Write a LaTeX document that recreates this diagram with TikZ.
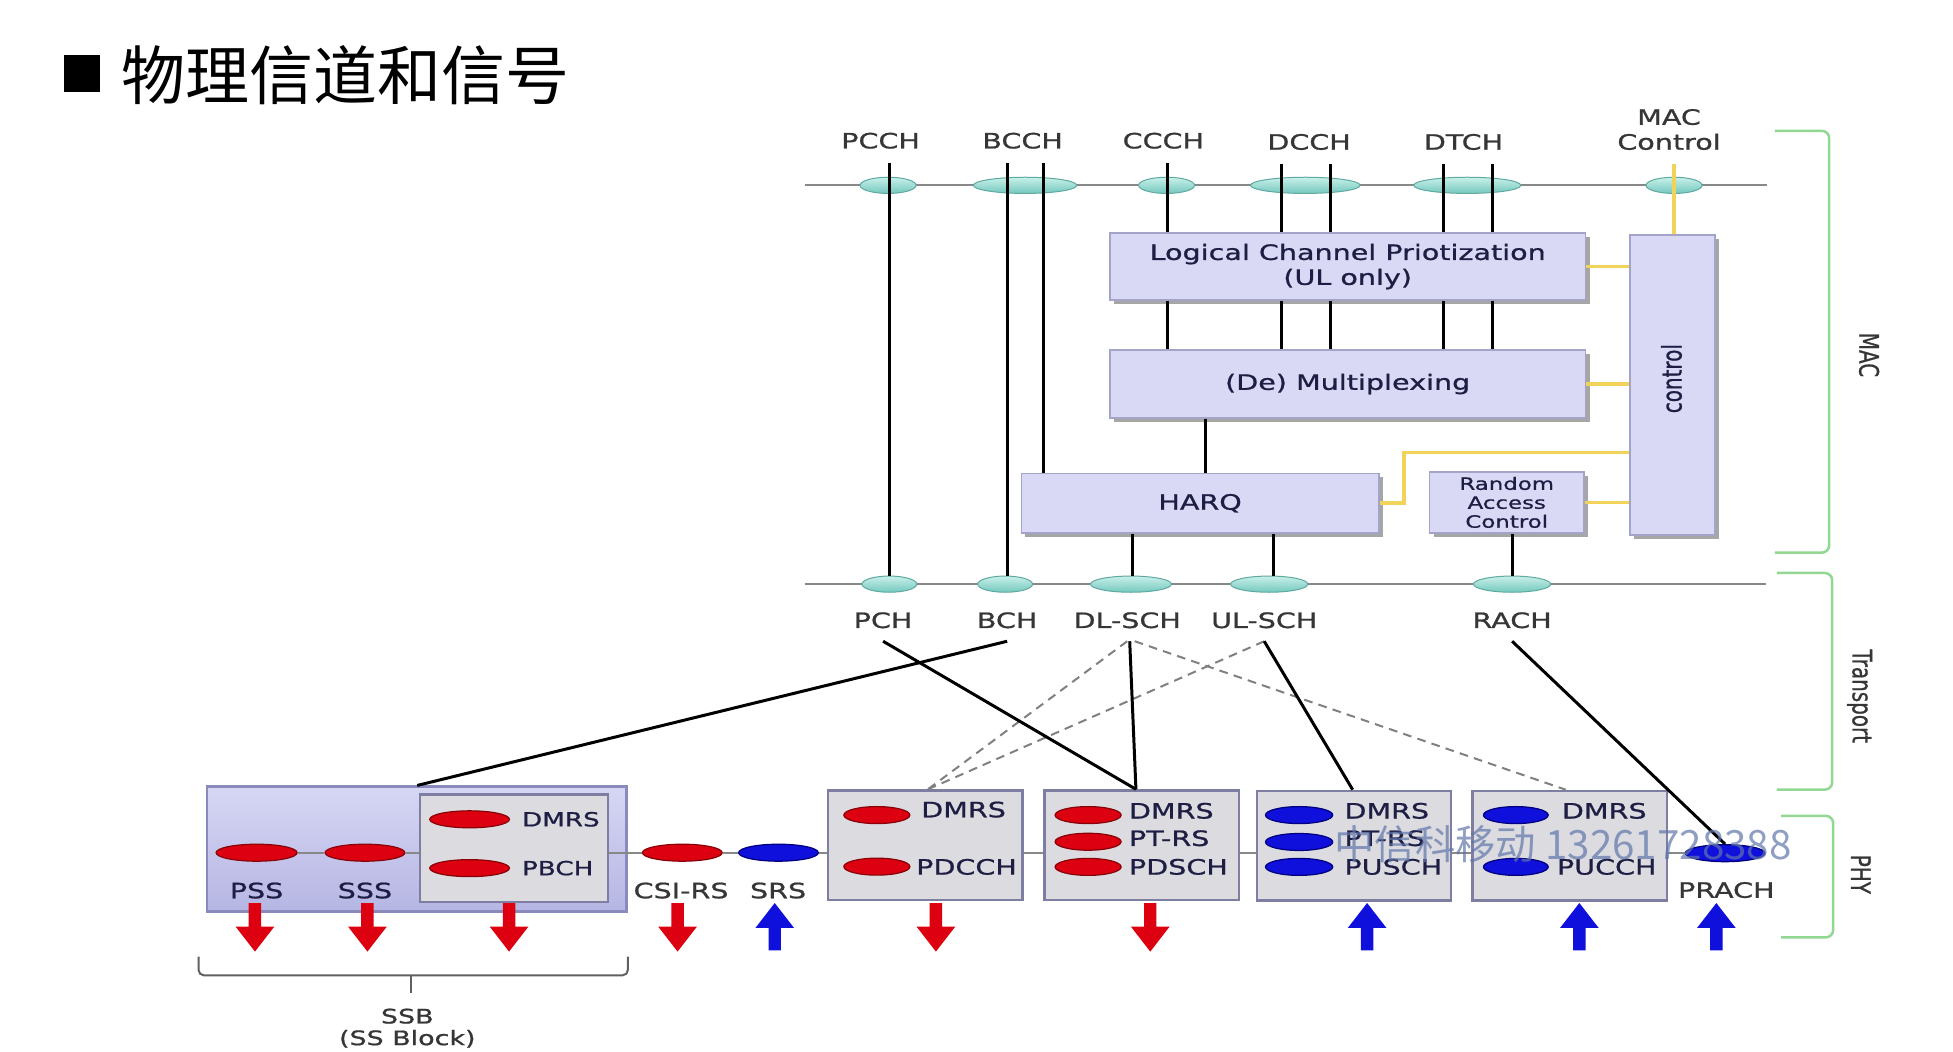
\documentclass[tikz,border=0pt]{standalone}
\usepackage{fontspec}
\usepackage{graphicx}
\newfontfamily\lab{DejaVu Sans}[FakeStretch=1.35,FakeBold=0.9]
\newfontfamily\labr{DejaVu Sans}[FakeBold=0.9]
\newfontfamily\cjk{Noto Sans CJK SC}
\usetikzlibrary{shapes.geometric,shadows}
\definecolor{teal1}{HTML}{C8F0EA}
\definecolor{teal2}{HTML}{74C8BE}
\definecolor{tealdk}{HTML}{5FA9A0}
\definecolor{macfill}{HTML}{D9D9F6}
\definecolor{macedge}{HTML}{A4A4C8}
\definecolor{navy}{HTML}{1E1E44}
\definecolor{lblgray}{HTML}{363636}
\definecolor{ylw}{HTML}{F2D35A}
\definecolor{grn}{HTML}{92D892}
\definecolor{phyfill}{HTML}{DCDCE0}
\definecolor{phyedge}{HTML}{7E7EA2}
\definecolor{ssb1}{HTML}{D6D6F4}
\definecolor{ssb2}{HTML}{B6B6E4}
\definecolor{ssbedge}{HTML}{8A8ABD}
\definecolor{rd}{HTML}{DD0010}
\definecolor{rddk}{HTML}{8A0008}
\definecolor{bl}{HTML}{1010DD}
\definecolor{bldk}{HTML}{000080}
\definecolor{wm}{HTML}{6075AA}
\definecolor{linegray}{HTML}{888888}
\definecolor{brcgray}{HTML}{606060}
\newcommand\redarrow[1]{\fill[rd] (#1-5,725) -- (#1+5,725) -- (#1+5,744) -- (#1+15.5,744) -- (#1,764) -- (#1-15.5,744) -- (#1-5,744) -- cycle;}
\newcommand\bluearrow[1]{\fill[bl] (#1,725) -- (#1+15.5,745) -- (#1+5,745) -- (#1+5,763) -- (#1-5,763) -- (#1-5,745) -- (#1-15.5,745) -- cycle;}
\begin{document}
\begin{tikzpicture}[x=0.5pt,y=-0.5pt,
 toplbl/.style={font=\lab\fontsize{8.5}{10}\selectfont, text=lblgray, inner xsep=0pt, inner ysep=5.5pt, align=center},
 botlbl/.style={font=\lab\fontsize{8.5}{10}\selectfont, text=lblgray, inner xsep=0pt, inner ysep=5pt},
 boxtxt/.style={font=\lab\fontsize{8.5}{10}\selectfont, text=navy, align=center},
 phytxt/.style={font=\lab\fontsize{8.5}{10}\selectfont, text=navy, inner sep=0pt},
 phylbl/.style={font=\lab\fontsize{8.5}{10}\selectfont, text=navy, inner sep=0pt},
 macbox/.style={rectangle, draw=macedge, fill=macfill, line width=0.6pt, inner sep=0pt, drop shadow={shadow xshift=1.6pt, shadow yshift=-1.6pt, opacity=0.35, fill=black}},
 tel/.style={ellipse, draw=tealdk, line width=0.4pt, top color=teal1, bottom color=teal2, minimum height=6.5pt, inner sep=0pt, minimum width=#1},
 rell/.style={ellipse, draw=rddk, line width=0.5pt, fill=rd, minimum height=6.8pt, inner sep=0pt, minimum width=#1},
 bell/.style={ellipse, draw=bldk, line width=0.5pt, fill=bl, minimum height=6.8pt, inner sep=0pt, minimum width=#1},
 phybox/.style={rectangle, draw=phyedge, fill=phyfill, line width=1pt, inner sep=0pt, minimum width=78pt, minimum height=44pt},
 hl/.style={draw=linegray, line width=0.9pt},
 blk/.style={draw=black, line width=1.2pt},
 dsh/.style={draw=gray, line width=0.8pt, dash pattern=on 3.5pt off 2.5pt},
 ylwl/.style={draw=ylw, line width=1.5pt},
 grnb/.style={draw=grn, line width=1pt, rounded corners=3pt},
 brc/.style={draw=brcgray, line width=0.8pt, rounded corners=2pt},
 side/.style={font=\labr\fontsize{8}{9}\selectfont, text=lblgray, rotate=-90, inner sep=0pt}
]
\useasboundingbox (0,0) rectangle (1568,844.6);
\fill[white] (0,0) rectangle (1568,844.6);

% title
\node[fill=black, inner sep=0pt, minimum size=14.5pt] (bul) at (65.5,59) {};
\node[font=\cjk\fontsize{25.7}{28}\selectfont, anchor=west, inner sep=0pt] (title) at (97,60) {物理信道和信号};

% buses
\draw[hl] (646,148.8) -- (1419,148.8);
\draw[hl] (646,469) -- (1418,469);

% logical channel ellipses
\node[tel=22.5pt] (epcch) at (713,148.8) {};
\node[tel=41.5pt] (ebcch) at (823,148.8) {};
\node[tel=22.5pt] (eccch) at (936.6,148.8) {};
\node[tel=44pt] (edcch) at (1048,148.8) {};
\node[tel=43pt] (edtch) at (1178,148.8) {};
\node[tel=22.5pt] (emac) at (1344,148.8) {};

% transport ellipses
\node[tel=22pt] (pch) at (714,469) {};
\node[tel=22pt] (bch) at (807,469) {};
\node[tel=32.5pt] (dls) at (908,469) {};
\node[tel=31pt] (uls) at (1019,469) {};
\node[tel=31pt] (rch) at (1214,469) {};

% top labels
\node[toplbl] (lpcch) at (707,113) {PCCH};
\node[toplbl] (lbcch) at (821,113) {BCCH};
\node[toplbl] (lccch) at (934,113) {CCCH};
\node[toplbl] (ldcch) at (1051,114) {DCCH};
\node[toplbl] (ldtch) at (1175,114) {DTCH};
\node[toplbl] (lmac) at (1340,104) {MAC\\Control};

% MAC boxes
\node[macbox, boxtxt, minimum width=191pt, minimum height=27pt] (log) at (1082,214) {Logical Channel Priotization\\(UL only)};
\node[macbox, boxtxt, minimum width=191pt, minimum height=27.3pt] (mux) at (1082,308.3) {(De) Multiplexing};
\node[macbox, boxtxt, minimum width=143.5pt, minimum height=24pt] (harq) at (963.5,404) {HARQ};
\node[macbox, boxtxt, font=\lab\fontsize{6.8}{7.6}\selectfont, minimum width=62pt, minimum height=24.6pt] (rac) at (1209.7,403.4) {Random\\Access\\Control};
\node[macbox, minimum width=34pt, minimum height=120.4pt] (ctrl) at (1342.7,309.2) {};
\node[font=\labr\fontsize{8}{9}\selectfont, text=navy, rotate=90, inner sep=0pt] (ctrlt) at (1342,304) {\scalebox{1}[1.35]{control}};

% vertical channel lines
\draw[blk] (714.5,0 |- lpcch.south) -- (714.5,0 |- pch.north);
\draw[blk] (808.6,0 |- lbcch.south) -- (808.6,0 |- bch.north);
\draw[blk] (837.5,0 |- lbcch.south) -- (837.5,0 |- harq.north);
\foreach \xx/\ll in {937/lccch, 1029/ldcch, 1068/ldcch, 1159/ldtch, 1198/ldtch} {
  \draw[blk] (\xx,0 |- \ll.south) -- (\xx,0 |- log.north);
  \draw[blk] (\xx,0 |- log.south) -- (\xx,0 |- mux.north);
}
\draw[blk] (968,0 |- mux.south) -- (968,0 |- harq.north);
\draw[blk] (909,0 |- harq.south) -- (909,0 |- dls.north);
\draw[blk] (1022.6,0 |- harq.south) -- (1022.6,0 |- uls.north);
\draw[blk] (1214,0 |- rac.south) -- (1214,0 |- rch.north);

% control (yellow)
\draw[ylwl] (1344,0 |- lmac.south) -- (1344,0 |- ctrl.north);
\draw[ylwl] (log.east) -- (log.east -| ctrl.west);
\draw[ylwl] (mux.east) -- (mux.east -| ctrl.west);
\draw[ylwl] (harq.east) -| (1127,363.4) -- (ctrl.west |- 1127,363.4);
\draw[ylwl] (rac.east) -- (rac.east -| ctrl.west);

% transport labels
\node[botlbl] (lpch) at (709,498) {PCH};
\node[botlbl] (lbch) at (808.6,498) {BCH};
\node[botlbl] (ldls) at (905,498) {DL-SCH};
\node[botlbl] (luls) at (1015,498) {UL-SCH};
\node[botlbl] (lrch) at (1214,498) {RACH};

% brackets
\draw[grnb] (1425,105) -- (1468.6,105) -- (1468.6,443.7) -- (1425,443.7);
\draw[grnb] (1426.6,460) -- (1471,460) -- (1471,634) -- (1426.6,634);
\draw[grnb] (1430,655) -- (1471.8,655) -- (1471.8,752.6) -- (1430,752.6);
\node[side] (smac) at (1500.6,285) {\scalebox{1}[1.35]{MAC}};
\node[side] (strn) at (1493,559) {\scalebox{1}[1.35]{Transport}};
\node[side] (sphy) at (1494,702) {\scalebox{1}[1.35]{PHY}};

% PHY boxes
\node[rectangle, draw=ssbedge, line width=1pt, top color=ssb1, bottom color=ssb2, minimum width=168.5pt, minimum height=50.2pt, inner sep=0pt] (ssb) at (334.5,681.8) {};
\node[phybox, minimum width=75.5pt, minimum height=43pt] (pbb) at (412.5,681) {};
\node[phybox] (pdcchb) at (742.8,678.7) {};
\node[phybox] (pdschb) at (916.6,678.7) {};
\node[phybox] (puschb) at (1087,679) {};
\node[phybox] (pucchb) at (1260.3,679) {};

% PHY ellipses
\node[rell=32.5pt] (pss) at (206,684.6) {};
\node[rell=32pt] (sss) at (293,684.6) {};
\node[rell=32pt] (sdm) at (377,657.8) {};
\node[rell=32pt] (spb) at (377,697) {};
\node[rell=32pt] (csi) at (547.8,684.6) {};
\node[bell=32pt] (srs) at (625,684.6) {};
\node[rell=26.5pt] (c1) at (704,654.4) {};
\node[rell=26.5pt] (c2) at (704,695.8) {};
\node[rell=26.5pt] (d1) at (873.6,654.4) {};
\node[rell=26.5pt] (d2) at (873.6,675.8) {};
\node[rell=26.5pt] (d3) at (873.6,696) {};
\node[bell=27pt] (u1) at (1043,654.4) {};
\node[bell=27pt] (u2) at (1043,676) {};
\node[bell=27pt] (u3) at (1043,696) {};
\node[bell=26pt] (k1) at (1217,654.4) {};
\node[bell=26pt] (k2) at (1217,696) {};
\node[bell=32pt] (prach) at (1385,685) {};

% PHY line
\draw[hl] (pss.east) -- (sss.west);
\draw[hl] (sss.east) -- (pbb.west |- sss.east);
\draw[hl] (pbb.east |- csi.west) -- (csi.west);
\draw[hl] (csi.east) -- (srs.west);
\draw[hl] (srs.east) -- (pdcchb.west |- srs.east);
\draw[hl] (pdcchb.east |- srs.east) -- (pdschb.west |- srs.east);
\draw[hl] (pdschb.east |- srs.east) -- (puschb.west |- srs.east);
\draw[hl] (puschb.east |- srs.east) -- (pucchb.west |- srs.east);
\draw[hl] (pucchb.east |- prach.west) -- (prach.west);

% PHY texts
\node[phylbl] (pssl) at (206,715) {PSS};
\node[phylbl] (sssl) at (293,715) {SSS};
\node[phylbl, text=lblgray] (csil) at (546.8,715) {CSI-RS};
\node[phylbl, text=lblgray] (srsl) at (624.7,715) {SRS};
\node[phylbl, text=lblgray] (prachl) at (1386,714.6) {PRACH};
\node[phytxt, font=\lab\fontsize{7.8}{9}\selectfont, anchor=west] (sdmt) at (418.7,657.8) {DMRS};
\node[phytxt, font=\lab\fontsize{7.8}{9}\selectfont, anchor=west] (spbt) at (418.7,697) {PBCH};
\node[phytxt] (c1t) at (773.6,650) {DMRS};
\node[phytxt] (c2t) at (776,696) {PDCCH};
\node[phytxt, anchor=west] (d1t) at (906,651) {DMRS};
\node[phytxt, anchor=west] (d2t) at (906,673) {PT-RS};
\node[phytxt, anchor=west] (d3t) at (906,696) {PDSCH};
\node[phytxt, anchor=west] (u1t) at (1079,651) {DMRS};
\node[phytxt, anchor=west] (u2t) at (1079,673) {PT-RS};
\node[phytxt, anchor=west] (u3t) at (1079,696) {PUSCH};
\node[phytxt] (k1t) at (1288,651) {DMRS};
\node[phytxt] (k2t) at (1290,696) {PUCCH};

% transport -> physical mapping
\draw[dsh] (ldls.south) -- (745,0 |- pdcchb.north);
\draw[dsh] (luls.south) -- (745,0 |- pdcchb.north);
\draw[dsh] ([xshift=3pt]ldls.south) -- (1257,0 |- pucchb.north);
\draw[blk] (lbch.south) -- (335,0 |- ssb.north);
\draw[blk] (lpch.south) -- (912,0 |- pdschb.north);
\draw[blk] ([xshift=1pt]ldls.south) -- (912,0 |- pdschb.north);
\draw[blk] (luls.south) -- (1086,0 |- puschb.north);
\draw[blk] (lrch.south) -- (prach.north);

% arrows
\redarrow{204.7}
\redarrow{295}
\redarrow{408.7}
\redarrow{544}
\redarrow{751.4}
\redarrow{923.5}
\bluearrow{622}
\bluearrow{1097.6}
\bluearrow{1268}
\bluearrow{1378}

% SSB brace
\draw[brc] (159.5,768) -- (159.5,783) -- (504,783) -- (504,768);
\draw[brc] (330,783) -- (330,797.5);
\node[font=\lab\fontsize{8}{8.7}\selectfont, text=lblgray, align=center] (ssbl) at (327,825.5) {SSB\\(SS Block)};

% watermark
\node[font=\cjk\fontsize{16.2}{17}\selectfont, text=wm, opacity=0.7, anchor=west, inner sep=0pt] (wmk) at (1071,678) {中信科移动 13261728388};
\end{tikzpicture}
\end{document}
